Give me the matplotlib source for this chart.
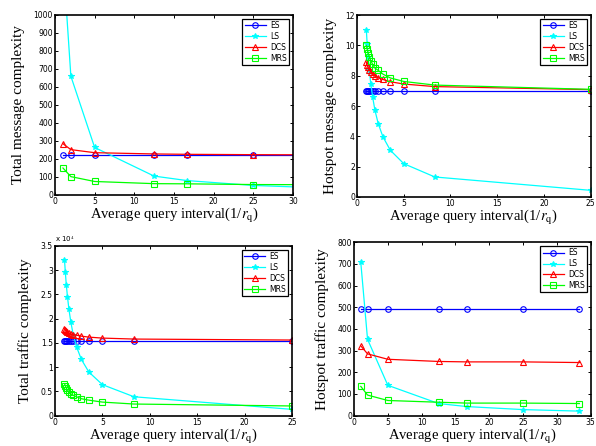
import numpy as np
import matplotlib
matplotlib.use('Agg')
import matplotlib.pyplot as plt
from matplotlib.ticker import FuncFormatter

plt.rcParams['mathtext.fontset'] = 'stix'

# x values (average query interval 1/r_q)
x_coarse = [1, 2, 5, 12.5, 16.67, 25, 33.33]
x_fine = [1, 1.087, 1.19, 1.316, 1.47, 1.67, 1.92, 2.27, 2.78, 3.57, 5, 8.33, 25]

# Total message complexity
tm_es = [220, 220, 220, 220, 220, 220, 220]
tm_ls = [1320, 660, 264, 105, 80, 53, 40]
tm_dcs = [285, 252, 235, 228, 226, 224, 223]
tm_mrs = [150, 102, 75, 63, 62, 58, 57]

# Hotspot message complexity
hm_es = [7.0] * 13
hm_ls = [11.0, 10.1, 9.24, 8.36, 7.48, 6.6, 5.72, 4.84, 3.96, 3.08, 2.2, 1.32, 0.44]
hm_dcs = [8.9, 8.7, 8.55, 8.4, 8.25, 8.1, 7.98, 7.87, 7.75, 7.6, 7.45, 7.28, 7.08]
hm_mrs = [10.0, 9.75, 9.5, 9.25, 9.0, 8.75, 8.5, 8.35, 8.1, 7.85, 7.62, 7.38, 7.1]

# Total traffic complexity
tt_es = [15500] * 13
tt_ls = [32200, 29600, 27000, 24500, 21900, 19300, 16700, 14200, 11600, 9000, 6400, 3900, 1300]
tt_dcs = [17900, 17600, 17400, 17200, 17000, 16800, 16700, 16600, 16400, 16200, 16000, 15800, 15600]
tt_mrs = [6600, 6200, 5700, 5300, 4900, 4500, 4200, 3900, 3500, 3200, 2800, 2400, 2000]

# Hotspot traffic complexity
ht_es = [490, 490, 490, 490, 490, 490, 490]
ht_ls = [707, 352, 140, 56, 42, 28, 21]
ht_dcs = [322, 285, 260, 250, 248, 248, 245]
ht_mrs = [135, 95, 70, 62, 58, 58, 56]

names = ['ES', 'LS', 'DCS', 'MRS']
colors = ['#0000ff', '#00ffff', '#ff0000', '#00ff00']
markers = ['o', '*', '^', 's']

xlabel = 'Average query interval(1/$r_{\\mathrm{q}}$)'
serif = 'Liberation Serif'

fig = plt.figure(figsize=(5.96, 4.46), dpi=100)

panels = [
    ([0.0923, 0.5628, 0.399, 0.4036], x_coarse, [tm_es, tm_ls, tm_dcs, tm_mrs],
     'Total message complexity', (0, 30), (0, 1000), 100),
    ([0.599, 0.5583, 0.392, 0.408], x_fine, [hm_es, hm_ls, hm_dcs, hm_mrs],
     'Hotspot message complexity', (0, 25), (0, 12), 2),
    ([0.0923, 0.068, 0.3977, 0.3805], x_fine, [tt_es, tt_ls, tt_dcs, tt_mrs],
     'Total traffic complexity', (0, 25), (0, 35000), 5000),
    ([0.594, 0.068, 0.397, 0.389], x_coarse, [ht_es, ht_ls, ht_dcs, ht_mrs],
     'Hotspot traffic complexity', (0, 35), (0, 800), 100),
]

for i, (pos, xs, series, ylab, xl, yl, ystep) in enumerate(panels):
    ax = fig.add_axes(pos)
    for ys, name, c, m in zip(series, names, colors, markers):
        ax.plot(xs, ys, color=c, marker=m, markersize=4,
                markerfacecolor='none' if m != '*' else c, markeredgewidth=0.8,
                lw=0.9, label=name)
    ax.set_xlim(*xl)
    ax.set_ylim(*yl)
    ax.set_xticks(np.arange(xl[0], xl[1] + 0.1, 5))
    ax.set_yticks(np.arange(yl[0], yl[1] + ystep / 2, ystep))
    if i == 2:
        ax.yaxis.set_major_formatter(FuncFormatter(lambda v, _: f'{v / 1e4:g}'))
        ax.text(0.0, 1.01, 'x 10$^4$', transform=ax.transAxes, fontsize=5,
                ha='left', va='bottom')
    else:
        ax.yaxis.set_major_formatter(FuncFormatter(lambda v, _: f'{v:g}'))
    ax.xaxis.set_major_formatter(FuncFormatter(lambda v, _: f'{v:g}'))
    ax.tick_params(direction='in', top=True, right=True, labelsize=5.5,
                   length=2.5, width=0.7, pad=1.5, colors='black')
    for sp in ax.spines.values():
        sp.set_linewidth(1.2)
    ax.set_ylabel(ylab, family=serif, fontsize=11, labelpad=6)
    ax.set_xlabel(xlabel, family=serif, fontsize=10.5, labelpad=0)
    leg = ax.legend(loc='upper right', fontsize=5.5, fancybox=False,
                    edgecolor='black', framealpha=1, handlelength=2.8,
                    borderpad=0.3, labelspacing=0.25, handletextpad=0.5,
                    borderaxespad=0.5)
    leg.get_frame().set_linewidth(0.9)

fig.savefig('out.png', dpi=100)
